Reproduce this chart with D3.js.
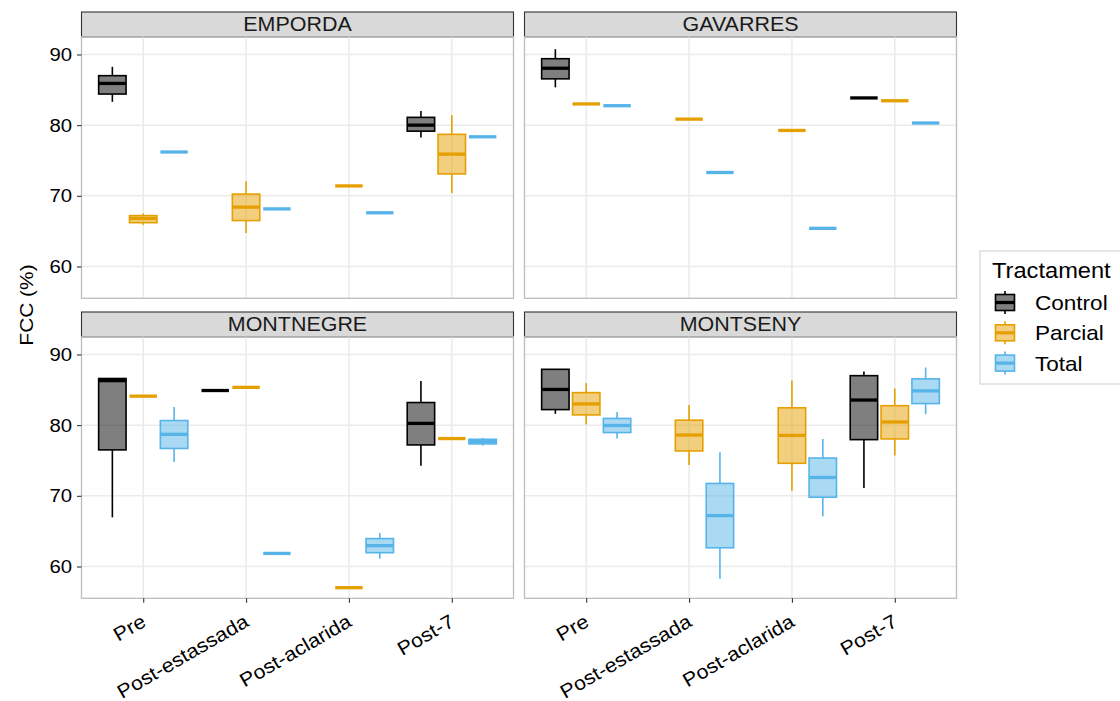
<!DOCTYPE html>
<html>
<head>
<meta charset="utf-8">
<script src="https://cdn.jsdelivr.net/npm/d3@7"></script>
<style>
  body { margin: 0; background: #fff; }
  text { font-family: "Liberation Sans", Arial, sans-serif; }
</style>
</head>
<body>
<div id="chart"></div>
<script>
const sites = ["EMPORDA", "GAVARRES", "MONTNEGRE", "MONTSENY"];
const stages = ["Pre", "Post-estassada", "Post-aclarida", "Post-7"];
const treatments = ["Control", "Parcial", "Total"];
const yTicks = [60, 70, 80, 90];

// box stats per stage: [Control, Parcial, Total], each [min, q1, median, q3, max] or one value
const emporda = [
    [[83.3, 84.4, 85.9, 87.0, 88.25], [65.9, 66.2, 66.8, 67.2, 67.5], 76.2],
    [null, [64.75, 66.5, 68.4, 70.25, 72.05], 68.15],
    [null, 71.4, 67.6],
    [[78.25, 79.15, 80.0, 81.1, 82.0], [70.4, 73.1, 75.9, 78.7, 81.4], 78.35]
];
const gavarres = [
    [[85.35, 86.55, 88.05, 89.4, 90.75], 83.0, 82.75],
    [null, 80.85, 73.3],
    [null, 79.25, 65.4],
    [83.85, 83.45, 80.3]
];
const montnegre = [
    [[66.95, 76.5, 86.3, 86.6, 86.6], 84.1, [74.8, 76.7, 78.7, 80.65, 82.55]],
    [84.9, 85.35, 61.85],
    [null, 57.0, [61.1, 61.95, 62.95, 63.95, 64.75]],
    [[74.25, 77.2, 80.25, 83.2, 86.25], 78.1, [77.1, 77.35, 77.7, 78.0, 78.2]]
];
const montseny = [
    [[81.6, 82.2, 85.05, 87.9, 87.9], [80.1, 81.45, 83.0, 84.6, 85.95], [78.1, 78.95, 79.95, 80.95, 81.85]],
    [null, [74.35, 76.35, 78.6, 80.7, 82.85], [58.25, 62.65, 67.2, 71.75, 76.15]],
    [null, [70.7, 74.6, 78.55, 82.45, 86.3], [67.1, 69.8, 72.6, 75.35, 78.05]],
    [[71.1, 77.95, 83.55, 87.0, 87.6], [75.7, 78.05, 80.45, 82.75, 85.2], [81.55, 83.05, 84.85, 86.55, 88.15]]
];
const siteData = [emporda, gavarres, montnegre, montseny];

const colors = { "Control": "#000000", "Parcial": "#E69F00", "Total": "#56B4E9" };

// the reference text is a little wider than Liberation Sans
const sx = 1.1;

const svg = d3.select("#chart")
    .append("svg")
    .attr("width", 1120)
    .attr("height", 701);

const panelW = 432;
const panelH = 261.5;
const stripH = 24.8;
const panelX = [81.5, 524.5];
const stripY = [12, 312];

const x = d3.scalePoint()
    .domain(stages)
    .range([0, panelW])
    .padding(0.6);
const step = x.step();
const boxW = step * 0.8 / 3;

const dodge = d3.scalePoint()
    .domain(treatments)
    .range([-step * 0.3, step * 0.3]);

const y = d3.scaleLinear()
    .domain([55.5, 92.5])
    .range([panelH, 0]);

sites.forEach((site, i) => {
    const col = i % 2;
    const row = Math.floor(i / 2);
    const px = panelX[col];
    const sy = stripY[row];
    const py = sy + stripH;

    // strip
    svg.append("rect")
        .attr("x", px)
        .attr("y", sy)
        .attr("width", panelW)
        .attr("height", stripH)
        .attr("fill", "#D9D9D9")
        .attr("stroke", "#333333")
        .attr("stroke-width", 1.1);
    svg.append("text")
        .attr("transform", `translate(${px + panelW / 2}, ${sy + stripH / 2 + 7}) scale(${sx}, 1)`)
        .attr("text-anchor", "middle")
        .attr("fill", "#1A1A1A")
        .style("font-size", "19.5px")
        .text(site);

    const g = svg.append("g")
        .attr("transform", `translate(${px}, ${py})`);

    g.selectAll(".hgrid")
        .data(yTicks)
        .enter()
        .append("line")
        .attr("x1", 0)
        .attr("x2", panelW)
        .attr("y1", d => y(d))
        .attr("y2", d => y(d))
        .attr("stroke", "#EBEBEB")
        .attr("stroke-width", 1.5);
    g.selectAll(".vgrid")
        .data(stages)
        .enter()
        .append("line")
        .attr("x1", d => x(d))
        .attr("x2", d => x(d))
        .attr("y1", 0)
        .attr("y2", panelH)
        .attr("stroke", "#EBEBEB")
        .attr("stroke-width", 1.5);

    const boxes = [];
    siteData[i].forEach((arr, s) => {
        arr.forEach((v, t) => {
            if (v === null) return;
            const st = Array.isArray(v) ? v : [v, v, v, v, v];
            boxes.push({ stage: stages[s], tr: treatments[t], st: st });
        });
    });

    const b = g.selectAll(".box")
        .data(boxes)
        .enter()
        .append("g")
        .attr("transform", d => `translate(${x(d.stage) + dodge(d.tr)}, 0)`);

    b.append("line")
        .attr("y1", d => y(d.st[0]))
        .attr("y2", d => y(d.st[1]))
        .attr("stroke", d => colors[d.tr])
        .attr("stroke-width", 1.6);
    b.append("line")
        .attr("y1", d => y(d.st[3]))
        .attr("y2", d => y(d.st[4]))
        .attr("stroke", d => colors[d.tr])
        .attr("stroke-width", 1.6);
    b.append("rect")
        .attr("x", -boxW / 2)
        .attr("width", boxW)
        .attr("y", d => y(d.st[3]))
        .attr("height", d => y(d.st[1]) - y(d.st[3]))
        .attr("fill", d => colors[d.tr])
        .attr("fill-opacity", 0.5)
        .attr("stroke", d => colors[d.tr])
        .attr("stroke-width", 1.6);
    b.append("line")
        .attr("x1", -boxW / 2)
        .attr("x2", boxW / 2)
        .attr("y1", d => y(d.st[2]))
        .attr("y2", d => y(d.st[2]))
        .attr("stroke", d => colors[d.tr])
        .attr("stroke-width", 3.3);

    g.append("rect")
        .attr("width", panelW)
        .attr("height", panelH)
        .attr("fill", "none")
        .attr("stroke", "#BDBDBD")
        .attr("stroke-width", 1.3);

    // y axis on the left column
    if (col === 0) {
        const yAxis = g.append("g")
            .call(d3.axisLeft(y).tickValues(yTicks).tickSize(4.5).tickPadding(4));
        yAxis.select(".domain").remove();
        yAxis.selectAll("line").attr("stroke", "#333333").attr("stroke-width", 1.1);
        yAxis.selectAll("text")
            .attr("transform", `scale(${sx}, 1)`)
            .attr("fill", "#000")
            .style("font-size", "18.5px")
            .style("font-family", "Liberation Sans, Arial, sans-serif");
    }

    // x axis on the bottom row
    if (row === 1) {
        const xAxis = g.append("g")
            .attr("transform", `translate(0, ${panelH})`)
            .call(d3.axisBottom(x).tickSize(4.5).tickFormat(""));
        xAxis.select(".domain").remove();
        xAxis.selectAll("line").attr("stroke", "#333333").attr("stroke-width", 1.1);

        g.selectAll(".xlab")
            .data(stages)
            .enter()
            .append("text")
            .attr("transform", d => `translate(${x(d) + 4}, ${panelH + 27}) rotate(-30) scale(${sx}, 1)`)
            .attr("text-anchor", "end")
            .attr("fill", "#000")
            .style("font-size", "19.5px")
            .text(d => d);
    }
});

svg.append("text")
    .attr("transform", `translate(33, 305) rotate(-90) scale(${sx}, 1)`)
    .attr("text-anchor", "middle")
    .attr("fill", "#000")
    .style("font-size", "19px")
    .text("FCC (%)");

// legend
const legend = svg.append("g")
    .attr("transform", "translate(980, 251)");

legend.append("rect")
    .attr("width", 160)
    .attr("height", 133)
    .attr("fill", "#fff")
    .attr("stroke", "#D9D9D9")
    .attr("stroke-width", 1.3);

legend.append("text")
    .attr("transform", `translate(12, 27) scale(${sx}, 1)`)
    .attr("fill", "#000")
    .style("font-size", "21.5px")
    .text("Tractament");

const items = legend.selectAll(".item")
    .data(treatments)
    .enter()
    .append("g")
    .attr("transform", (d, i) => `translate(25, ${51.5 + i * 30.3})`);

items.append("line")
    .attr("y1", -11.5)
    .attr("y2", 11.5)
    .attr("stroke", d => colors[d])
    .attr("stroke-width", 1.6);
items.append("rect")
    .attr("x", -9.5)
    .attr("y", -8)
    .attr("width", 19)
    .attr("height", 16)
    .attr("fill", "#fff");
items.append("rect")
    .attr("x", -9.5)
    .attr("y", -8)
    .attr("width", 19)
    .attr("height", 16)
    .attr("fill", d => colors[d])
    .attr("fill-opacity", 0.5)
    .attr("stroke", d => colors[d])
    .attr("stroke-width", 1.6);
items.append("line")
    .attr("x1", -9.5)
    .attr("x2", 9.5)
    .attr("stroke", d => colors[d])
    .attr("stroke-width", 3.3);
items.append("text")
    .attr("transform", `translate(30, 7.5) scale(${sx}, 1)`)
    .attr("fill", "#000")
    .style("font-size", "20.5px")
    .text(d => d);
</script>
</body>
</html>
